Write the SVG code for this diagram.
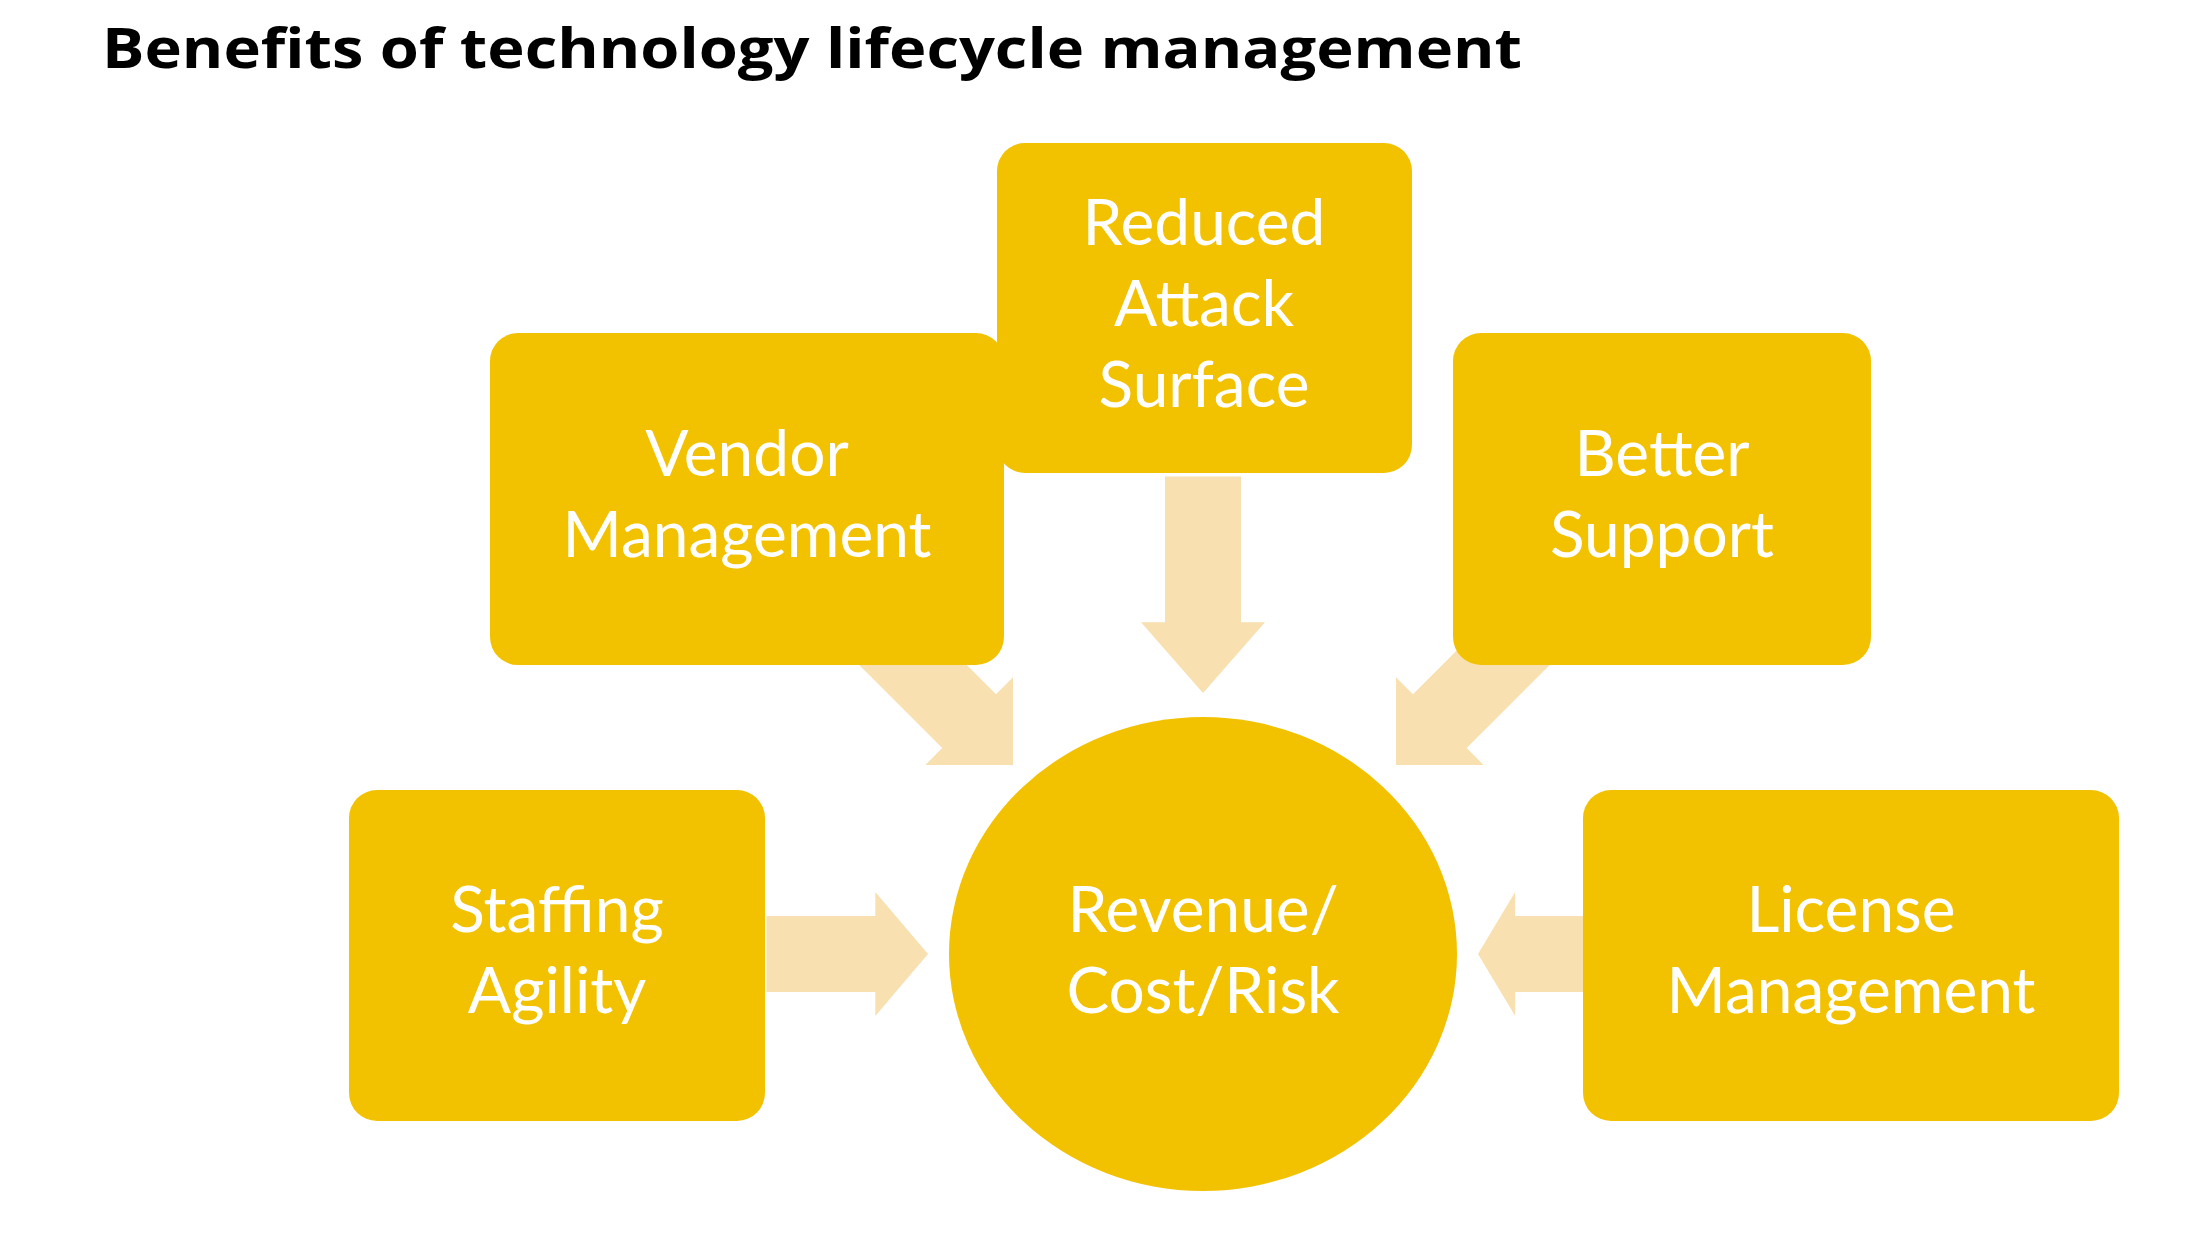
<svg xmlns="http://www.w3.org/2000/svg" width="2200" height="1235" viewBox="0 0 2200 1235">
<style>
.n{fill:#F2C200}
.a{fill:#F8E0B0}
.t{fill:#fff;font-family:Lato,"Open Sans",sans-serif;font-size:64px;text-anchor:middle}
.h{fill:#000;font-family:"Open Sans","Liberation Sans",sans-serif;font-weight:bold;font-size:56px}
</style>
<defs>
<polygon id="arr" points="-190,-38 -62,-38 -62,-62 0,0 -62,62 -62,38 -190,38"/>
</defs>
<rect width="2200" height="1235" fill="#fff"/>
<text class="h" x="102" y="68" textLength="1420" lengthAdjust="spacingAndGlyphs">Benefits of technology lifecycle management</text>
<g id="connectors" class="a">
<use href="#arr" transform="translate(1203,693) rotate(90) scale(1.14,1)"/>
<use href="#arr" transform="translate(928,954) scale(0.85,1)"/>
<use href="#arr" transform="translate(1478,954) rotate(180) scale(0.6,1)"/>
<use href="#arr" transform="translate(1013,765) rotate(45)"/>
<use href="#arr" transform="translate(1396,765) rotate(135)"/>
</g>
<g id="center"><ellipse class="n" cx="1203" cy="954" rx="254" ry="237"/><text class="t" x="1203" y="932">Revenue/</text><text class="t" x="1203" y="1013">Cost/Risk</text></g>
<g id="reduced"><rect class="n" x="997" y="143" width="415" height="330" rx="28"/><text class="t" x="1204" y="245">Reduced</text><text class="t" x="1204" y="326">Attack</text><text class="t" x="1204" y="407">Surface</text></g>
<g id="vendor"><rect class="n" x="490" y="333" width="514" height="332" rx="28"/><text class="t" x="747" y="476">Vendor</text><text class="t" x="747" y="557">Management</text></g>
<g id="better"><rect class="n" x="1453" y="333" width="418" height="332" rx="28"/><text class="t" x="1662" y="476">Better</text><text class="t" x="1662" y="557">Support</text></g>
<g id="staffing"><rect class="n" x="349" y="790" width="416" height="331" rx="28"/><text class="t" x="557" y="932">Staffing</text><text class="t" x="557" y="1013">Agility</text></g>
<g id="license"><rect class="n" x="1583" y="790" width="536" height="331" rx="28"/><text class="t" x="1851" y="932">License</text><text class="t" x="1851" y="1013">Management</text></g>
</svg>
